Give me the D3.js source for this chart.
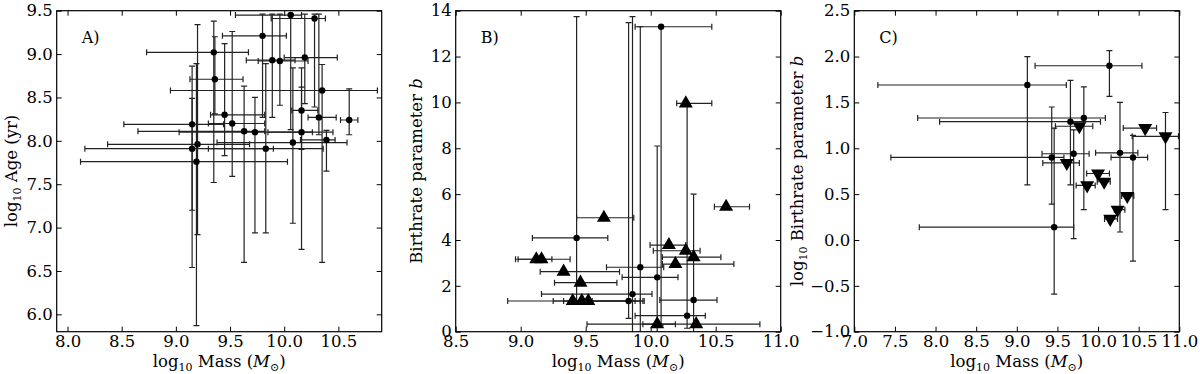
<!DOCTYPE html>
<html>
<head>
<meta charset="utf-8">
<script src="https://cdn.jsdelivr.net/npm/d3@7"></script>
<style>
  body { margin: 0; background: #fff; }
  svg text { font-family: "DejaVu Serif", serif; fill: #000; }
</style>
</head>
<body>
<svg id="chart" width="1200" height="374"></svg>
<script>
// ---- panel A: log mass vs log age (circles) ----
var massA   = [9.15, 9.20, 9.15, 9.19, 9.35, 9.36, 9.45, 9.52, 9.63, 9.73, 9.83, 9.80, 9.89, 9.96, 10.06, 10.19, 10.28, 10.35, 10.16, 10.32, 10.60, 10.16, 10.08, 10.39];
var massALo = [8.52, 8.37, 8.16, 8.12, 8.73, 9.13, 9.32, 9.30, 8.65, 9.03, 9.30, 9.43, 9.65, 9.76, 9.55, 10.00, 9.88, 8.95, 10.07, 10.22, 10.52, 9.85, 9.38, 10.15];
var massAHi = [9.44, 9.68, 9.90, 10.03, 9.67, 9.62, 9.82, 9.82, 9.82, 10.26, 10.36, 10.02, 10.10, 10.22, 10.16, 10.49, 10.38, 10.86, 10.31, 10.48, 10.68, 10.45, 10.58, 10.47];
var ageA    = [8.19, 7.96, 7.91, 7.76, 9.02, 8.71, 8.30, 8.20, 8.11, 8.10, 7.91, 9.21, 8.93, 8.92, 9.45, 8.96, 9.41, 8.58, 8.35, 8.27, 8.24, 8.10, 7.98, 8.01];
var ageALo  = [6.54, 6.92, 7.20, 5.87, 7.52, 8.31, 7.83, 7.59, 6.60, 6.94, 6.94, 8.27, 8.27, 8.41, 8.13, 8.43, 8.39, 6.60, 7.90, 8.07, 8.07, 6.75, 7.05, 7.65];
var ageAHi  = [8.86, 9.34, 8.49, 8.89, 9.38, 9.20, 9.12, 9.26, 8.63, 8.50, 8.89, 9.46, 9.46, 9.46, 9.46, 9.46, 9.46, 8.88, 8.84, 9.46, 8.60, 8.62, 8.84, 8.12];

// ---- panel B: birthrate parameter, circles and triangles ----
var massBc   = [9.43, 9.83, 9.86, 9.92, 10.05, 10.08, 10.28, 10.33];
var massBcLo = [9.09, 9.55, 9.16, 9.66, 9.78, 9.88, 9.88, 10.07];
var massBcHi = [9.67, 9.95, 10.01, 10.10, 10.21, 10.47, 10.42, 10.51];
var bBc      = [4.09, 1.34, 1.64, 2.81, 2.37, 13.30, 0.70, 1.38];
var bBcLo    = [1.30, 0.58, -1.0, -1.0, -1.0, 0.30, 0.15, -1.0];
var bBcHi    = [13.74, 13.48, 13.74, 13.30, 8.10, 13.30, 9.96, 6.00];

var massBt   = [9.12, 9.16, 9.33, 9.46, 9.40, 9.47, 9.52, 9.64, 10.14, 10.27, 10.33, 10.19, 10.05, 10.35, 10.58, 10.27];
var massBtLo = [8.96, 8.98, 9.15, 9.26, 8.90, 9.25, 9.33, 9.43, 9.995, 10.02, 10.09, 10.09, 9.94, 9.51, 10.49, 10.20];
var massBtHi = [9.38, 9.24, 9.76, 9.74, 9.88, 9.92, 9.94, 9.87, 10.27, 10.38, 10.54, 10.64, 10.19, 10.84, 10.76, 10.47];
var bBt      = [3.16, 3.16, 2.62, 2.14, 1.34, 1.34, 1.34, 4.97, 3.78, 3.53, 3.25, 2.95, 0.33, 0.33, 5.45, 9.96];

// ---- panel C: log birthrate parameter, circles and down triangles ----
var massCc   = [9.13, 10.14, 9.825, 9.66, 9.43, 9.70, 10.27, 10.43, 9.46];
var massCcLo = [7.29, 9.225, 7.78, 8.05, 7.45, 9.31, 9.97, 10.16, 7.80];
var massCcHi = [9.61, 10.54, 10.09, 10.03, 9.58, 9.89, 10.49, 10.61, 9.70];
var logbCc   = [1.69, 1.90, 1.33, 1.29, 0.90, 0.94, 0.95, 0.90, 0.14];
var logbCcLo = [0.60, 1.565, 0.33, 0.60, 0.39, 0.015, 0.087, -0.23, -0.59];
var logbCcHi = [2.00, 2.065, 1.67, 1.74, 1.45, 1.20, 1.50, 1.14, 1.22];

var massCt   = [9.77, 10.58, 10.83, 9.615, 10.00, 10.075, 9.866, 10.36, 10.24, 10.15];
var massCtLo = [9.475, 10.31, 10.42, 9.32, 9.86, 9.99, 9.73, 10.29, 10.20, 10.08];
var massCtHi = [9.935, 10.72, 10.99, 9.77, 10.14, 10.15, 9.965, 10.44, 10.33, 10.24];
var logbCt   = [1.24, 1.22, 1.13, 0.84, 0.725, 0.635, 0.595, 0.48, 0.33, 0.23];
var logbCtLo = [null, null, 0.33, null, null, null, null, null, null, null];
var logbCtHi = [null, null, 1.39, null, null, null, null, null, null, null];

// ---- tick labels ----
var ticksAx = [8.0, 8.5, 9.0, 9.5, 10.0, 10.5];
var ticksAy = [6.0, 6.5, 7.0, 7.5, 8.0, 8.5, 9.0, 9.5];
var ticksBx = [8.5, 9.0, 9.5, 10.0, 10.5, 11.0];
var ticksBy = [0, 2, 4, 6, 8, 10, 12, 14];
var ticksCx = [7.0, 7.5, 8.0, 8.5, 9.0, 9.5, 10.0, 10.5, 11.0];
var ticksCy = [-1.0, -0.5, 0.0, 0.5, 1.0, 1.5, 2.0, 2.5];

var svg = d3.select('#chart');
var width = 325, height = 321, top0 = 10.7;
var cap = 3, lineCol = '#222';

function makePanel(left, xDom, yDom, tag) {
  var g = svg.append('g').attr('transform', 'translate(' + left + ',' + top0 + ')');
  var x = d3.scaleLinear().domain(xDom).range([0, width]);
  var y = d3.scaleLinear().domain(yDom).range([height, 0]);
  g.append('clipPath').attr('id', 'clip' + tag)
    .append('rect').attr('width', width).attr('height', height);
  var marks = g.append('g').attr('clip-path', 'url(#clip' + tag + ')');
  return { g: g, x: x, y: y, marks: marks };
}

function seg(g, x1, y1, x2, y2) {
  g.append('line').attr('x1', x1).attr('y1', y1).attr('x2', x2).attr('y2', y2)
    .attr('stroke', lineCol).attr('stroke-width', 1.2);
}

function errorbars(p, xs, xlo, xhi, ys, ylo, yhi) {
  xs.forEach(function(d, i) {
    var cx = p.x(d), cy = p.y(ys[i]);
    if (xlo && xlo[i] != null) {
      var a = p.x(xlo[i]), b = p.x(xhi[i]);
      seg(p.marks, a, cy, b, cy);
      seg(p.marks, a, cy - cap, a, cy + cap);
      seg(p.marks, b, cy - cap, b, cy + cap);
    }
    if (ylo && ylo[i] != null) {
      var c = p.y(ylo[i]), e = p.y(yhi[i]);
      seg(p.marks, cx, c, cx, e);
      seg(p.marks, cx - cap, c, cx + cap, c);
      seg(p.marks, cx - cap, e, cx + cap, e);
    }
  });
}

function dots(p, xs, ys) {
  p.marks.selectAll(null).data(xs).enter().append('circle')
    .attr('cx', function(d) { return p.x(d); })
    .attr('cy', function(d, i) { return p.y(ys[i]); })
    .attr('r', 3.2).attr('fill', '#000');
}

function tris(p, xs, ys, down) {
  var sym = d3.symbol(d3.symbolTriangle, 85);
  p.marks.selectAll(null).data(xs).enter().append('path')
    .attr('d', sym)
    .attr('transform', function(d, i) {
      return 'translate(' + p.x(d) + ',' + p.y(ys[i]) + ')' + (down ? ' rotate(180)' : '');
    })
    .attr('fill', '#000');
}

function axes(p, xTicks, yTicks, yFmt, letter) {
  var g = p.g;
  var bottom = g.append('g').attr('transform', 'translate(0,' + height + ')')
    .call(d3.axisBottom(p.x).tickValues(xTicks).tickFormat(d3.format('.1f')).tickSize(-5).tickPadding(4));
  var left = g.append('g')
    .call(d3.axisLeft(p.y).tickValues(yTicks).tickFormat(yFmt).tickSize(-5).tickPadding(4));
  g.append('g').call(d3.axisTop(p.x).tickValues(xTicks).tickFormat('').tickSize(-5));
  g.append('g').attr('transform', 'translate(' + width + ',0)')
    .call(d3.axisRight(p.y).tickValues(yTicks).tickFormat('').tickSize(-5));
  g.selectAll('.domain').remove();
  g.selectAll('.tick line').attr('stroke', '#000').attr('stroke-width', 1);
  [bottom, left].forEach(function(a) {
    a.attr('font-family', null).attr('font-size', null);
    a.selectAll('text').style('font-size', '16.5px');
  });
  g.append('rect').attr('width', width).attr('height', height)
    .attr('fill', 'none').attr('stroke', '#000').attr('stroke-width', 1.2);
  g.append('text').attr('x', 25).attr('y', 32.5).style('font-size', '16px').text(letter);
}

function xLabel(cx) {
  var t = svg.append('text').attr('x', cx).attr('y', 367).attr('text-anchor', 'middle').style('font-size', '16.5px');
  t.append('tspan').text('log');
  t.append('tspan').attr('dy', 4).style('font-size', '11px').text('10');
  t.append('tspan').attr('dy', -4).text(' Mass (');
  t.append('tspan').style('font-style', 'italic').text('M');
  t.append('tspan').attr('dy', 4).style('font-size', '11px').text('\u2299');
  t.append('tspan').attr('dy', -4).text(')');
}

function yLabel(x, parts) {
  var t = svg.append('text').attr('transform', 'translate(' + x + ',171) rotate(-90)')
    .attr('text-anchor', 'middle').style('font-size', '16.5px');
  parts.forEach(function(p) {
    var s = t.append('tspan').text(p.t);
    if (p.sub) s.attr('dy', 4).style('font-size', '11px');
    if (p.up) s.attr('dy', -4);
    if (p.it) s.style('font-style', 'italic');
  });
}

// panel A
var pA = makePanel(56.7, [7.9, 10.9], [5.8, 9.5], 'A');
errorbars(pA, massA, massALo, massAHi, ageA, ageALo, ageAHi);
dots(pA, massA, ageA);
axes(pA, ticksAx, ticksAy, d3.format('.1f'), 'A)');

// panel B
var pB = makePanel(455.7, [8.5, 11.0], [0, 14], 'B');
errorbars(pB, massBc, massBcLo, massBcHi, bBc, bBcLo, bBcHi);
errorbars(pB, massBt, massBtLo, massBtHi, bBt, null, null);
dots(pB, massBc, bBc);
tris(pB, massBt, bBt, false);
axes(pB, ticksBx, ticksBy, d3.format('d'), 'B)');

// panel C
var pC = makePanel(854.3, [7.0, 11.0], [-1.0, 2.5], 'C');
errorbars(pC, massCc, massCcLo, massCcHi, logbCc, logbCcLo, logbCcHi);
errorbars(pC, massCt, massCtLo, massCtHi, logbCt, logbCtLo, logbCtHi);
dots(pC, massCc, logbCc);
tris(pC, massCt, logbCt, true);
axes(pC, ticksCx, ticksCy, d3.format('.1f'), 'C)');

xLabel(56.7 + width / 2);
xLabel(455.7 + width / 2);
xLabel(854.3 + width / 2);
yLabel(17, [{t: 'log'}, {t: '10', sub: true}, {t: ' Age (yr)', up: true}]);
yLabel(422, [{t: 'Birthrate parameter '}, {t: 'b', it: true}]);
yLabel(803, [{t: 'log'}, {t: '10', sub: true}, {t: ' Birthrate parameter ', up: true}, {t: 'b', it: true}]);
</script>
</body>
</html>
